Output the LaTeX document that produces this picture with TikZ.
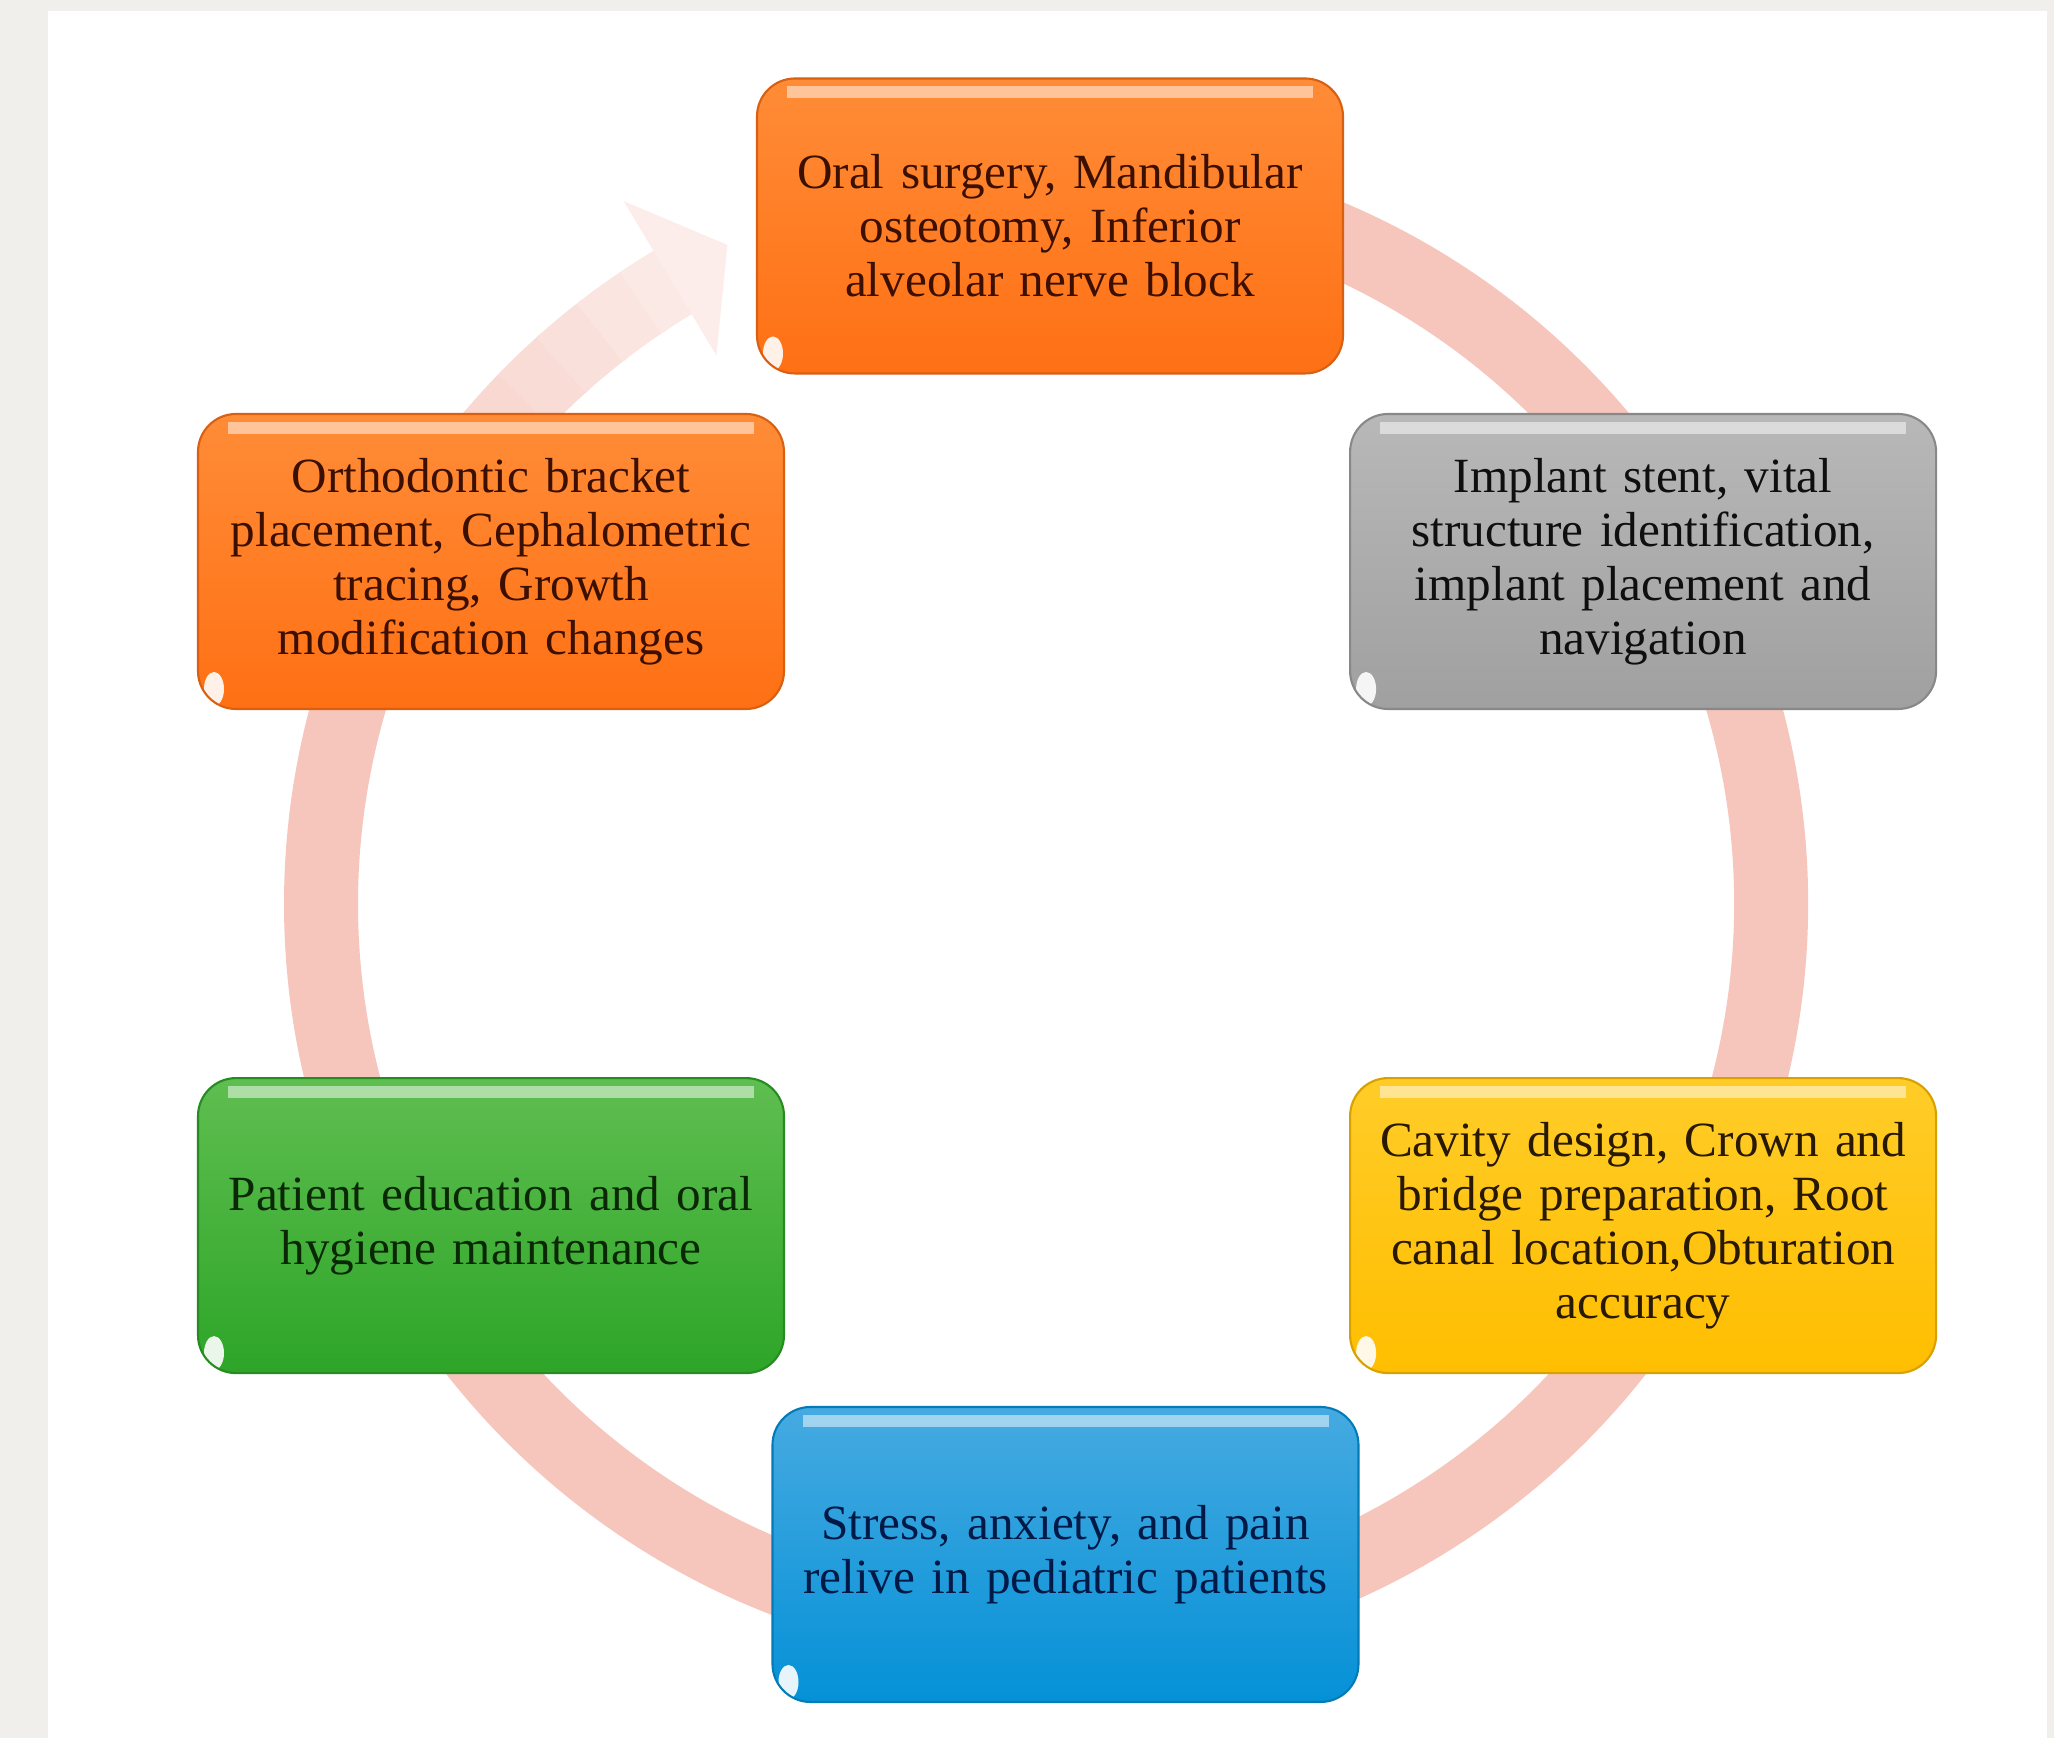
\documentclass[tikz,border=0pt]{standalone}
\usepackage{fontspec}
\setmainfont{Liberation Serif}
\usepackage{tikz}
\usetikzlibrary{calc,positioning}
\definecolor{pagegrey}{RGB}{241,239,235}
\definecolor{ringpink}{RGB}{246,198,189}
\definecolor{surgtop}{RGB}{255,140,55}
\definecolor{surgbot}{RGB}{255,112,20}
\definecolor{surgtext}{RGB}{60,16,0}
\definecolor{impltop}{RGB}{184,184,184}
\definecolor{implbot}{RGB}{160,160,160}
\definecolor{impltext}{RGB}{15,15,15}
\definecolor{eductop}{RGB}{95,190,80}
\definecolor{educbot}{RGB}{45,165,40}
\definecolor{eductext}{RGB}{10,40,5}
\definecolor{resttop}{RGB}{255,204,40}
\definecolor{restbot}{RGB}{255,190,0}
\definecolor{resttext}{RGB}{40,25,0}
\definecolor{paedtop}{RGB}{70,170,225}
\definecolor{paedbot}{RGB}{5,145,215}
\definecolor{paedtext}{RGB}{0,25,70}
\tikzset{
  ring/.style={line width=0.74cm, ringpink},
  stage/.style 2 args={rounded corners=0.38cm, minimum width=5.86cm, minimum height=2.95cm,
    text width=5.7cm, align=center, inner sep=0pt, top color=#1, bottom color=#2,
    draw=#2!85!black, line width=0.6pt, font=\fontsize{14}{15.4}\selectfont,
    path picture={
      \fill[white, opacity=0.5, sharp corners] ([xshift=0.3cm, yshift=-0.08cm]path picture bounding box.north west)
        rectangle ([xshift=-0.3cm, yshift=-0.2cm]path picture bounding box.north east);
      \fill[white, opacity=0.9, rotate around={-35:([xshift=0.16cm, yshift=0.2cm]path picture bounding box.south west)}]
        ([xshift=0.16cm, yshift=0.2cm]path picture bounding box.south west) ellipse [x radius=0.1cm, y radius=0.17cm];
    }},
}
\begin{document}
\begin{tikzpicture}
  % Page and white panel
  \useasboundingbox (0,0) rectangle (20.54,17.38);
  \fill[pagegrey] (0,0) rectangle (20.54,17.38);
  \fill[white] (0.48,0) rectangle (20.47,17.27);

  % Centre of the cycle
  \coordinate (hub) at (10.46,8.34);

  % Draw the ring, fading out towards its head
  \draw[ring] ($(hub)+(75:7.25)$) arc[start angle=75, end angle=-204, radius=7.25];
  \foreach \a [evaluate=\a as \f using {int(100-1.9*(-204-\a))}] in {-204,-208,...,-236}
    \draw[ring, ringpink!\f!white] ($(hub)+(\a:7.25)$) arc[start angle=\a, delta angle=-4.5, radius=7.25];
  \fill[ringpink!32!white] ($(hub)+(-239:6.40)$) -- ($(hub)+(-244.2:7.32)$) -- ($(hub)+(-239:8.20)$) -- cycle;

  % Draw the top stage
  \node[stage={surgtop}{surgbot}, text=surgtext] (surgery) at (10.50,15.12)
    {Oral surgery, Mandibular\\ osteotomy, Inferior\\ alveolar nerve block};

  % Draw the upper side stages
  \node[stage={surgtop}{surgbot}, text=surgtext] (ortho) at (4.91,11.765)
    {Orthodontic bracket\\ placement, Cephalometric\\ tracing, Growth\\ modification changes};
  \node[stage={impltop}{implbot}, text=impltext, right=5.64cm of ortho] (implant)
    {Implant stent, vital\\ structure identification,\\ implant placement and\\ navigation};

  % Draw the lower side stages
  \node[stage={eductop}{educbot}, text=eductext, below=3.67cm of ortho] (education)
    {Patient education and oral\\ hygiene maintenance};
  \node[stage={resttop}{restbot}, text=resttext, right=5.64cm of education] (restorative)
    {Cavity design, Crown and\\ bridge preparation, Root\\ canal location,Obturation\\ accuracy};

  % Draw the bottom stage
  \node[stage={paedtop}{paedbot}, text=paedtext] (paediatric) at (10.655,1.835)
    {Stress, anxiety, and pain\\ relive in pediatric patients};
\end{tikzpicture}
\end{document}
